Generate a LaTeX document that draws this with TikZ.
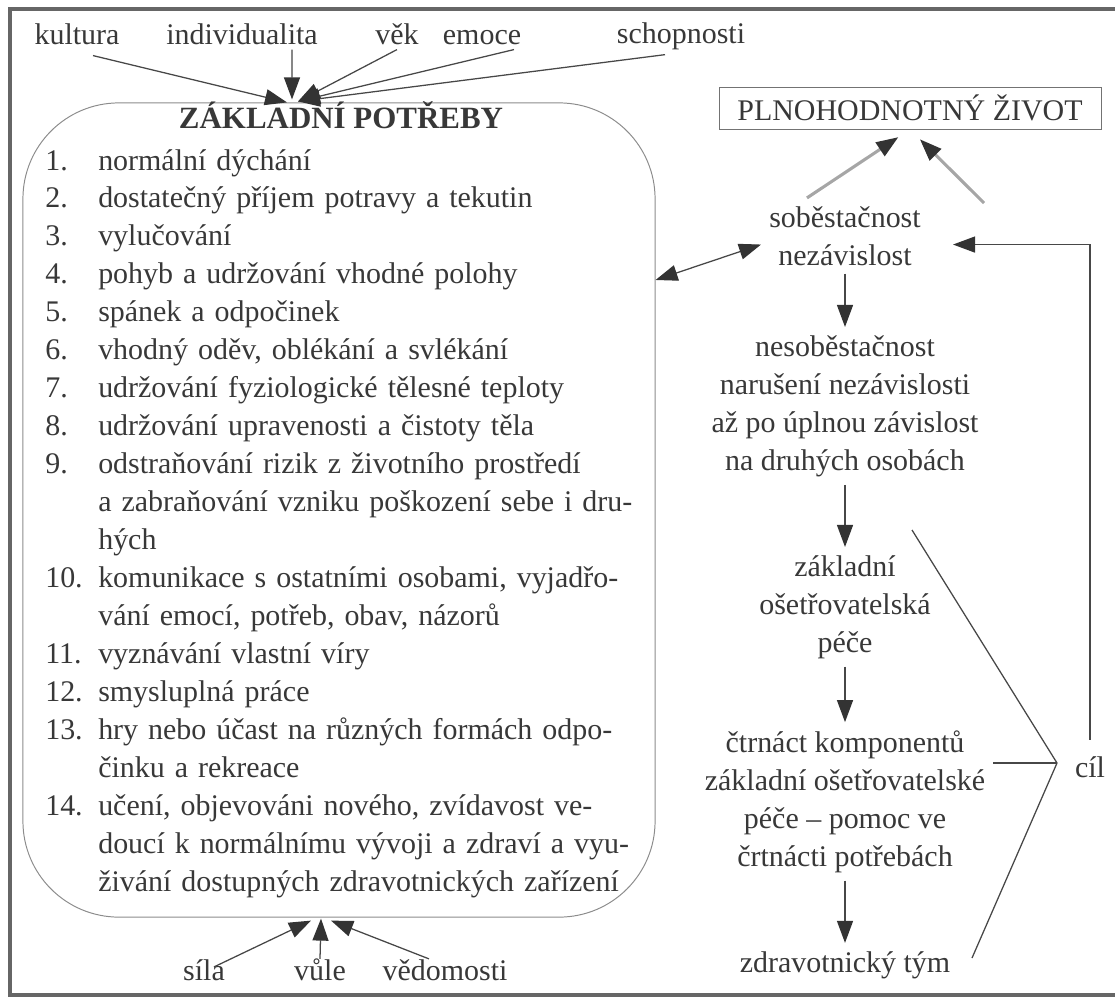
\documentclass[tikz,border=0pt]{standalone}
\usepackage{fontspec}
\setmainfont{Liberation Serif}
\usetikzlibrary{arrows.meta,calc}

\definecolor{ink}{gray}{0.22}
\definecolor{wire}{gray}{0.28}

\newcommand{\needfont}{\fontsize{21.3pt}{27pt}\selectfont}
\newcommand{\fullrow}[2]{\makebox[1.325cm][l]{#1}\makebox[13.1cm][s]{#2}}
\newcommand{\plainrow}[2]{\makebox[1.325cm][l]{#1}#2}

\begin{document}
\begin{tikzpicture}[x=0.025cm, y=-0.025cm,
  every node/.style={text=ink, font=\needfont, inner sep=0.1cm},
  factor/.style={anchor=base},
  stage/.style={align=center, anchor=base, inner sep=0.2cm},
  goal/.style={draw=black!55, line width=0.6pt, minimum width=9.55cm, minimum height=1.05cm, inner sep=0pt},
  bubble/.style={draw=black!45, line width=0.7pt, rounded corners=2.4cm, minimum width=15.8cm, minimum height=20.35cm, inner sep=0pt},
  conn/.style={draw=wire, line width=0.9pt},
  riser/.style={-{Triangle[length=0.55cm,width=0.4cm,color=black!80]}, draw=black!35, line width=2.2pt, shorten >=0.35cm},
  >={Triangle[length=0.55cm,width=0.4cm,color=black!80]}
]
\useasboundingbox (0,0) rectangle (1115,999);
\draw[line width=2.2pt, black!60] (1115,9) -- (10,9) -- (10,995) -- (1115,995);

\node[bubble] (needs) at (339,510) {};
\node[font={\fontsize{22pt}{27pt}\selectfont\bfseries}, anchor=base] (title) at (341,128) {ZÁKLADNÍ POTŘEBY};
\node[anchor=base west, align=left, text width=14.425cm, inner sep=0pt] (list) at (45,170) {%
\plainrow{1.}{normální dýchání}\\
\plainrow{2.}{dostatečný příjem potravy a tekutin}\\
\plainrow{3.}{vylučování}\\
\plainrow{4.}{pohyb a udržování vhodné polohy}\\
\plainrow{5.}{spánek a odpočinek}\\
\plainrow{6.}{vhodný oděv, oblékání a svlékání}\\
\plainrow{7.}{udržování fyziologické tělesné teploty}\\
\plainrow{8.}{udržování upravenosti a čistoty těla}\\
\fullrow{9.}{odstraňování rizik z životního prostředí}\\
\fullrow{}{a zabraňování vzniku poškození sebe i dru-}\\
\plainrow{}{hých}\\
\fullrow{10.}{komunikace s ostatními osobami, vyjadřo-}\\
\plainrow{}{vání emocí, potřeb, obav, názorů}\\
\plainrow{11.}{vyznávání vlastní víry}\\
\plainrow{12.}{smysluplná práce}\\
\fullrow{13.}{hry nebo účast na různých formách odpo-}\\
\plainrow{}{činku a rekreace}\\
\fullrow{14.}{učení, objevováni nového, zvídavost ve-}\\
\fullrow{}{doucí k normálnímu vývoji a zdraví a vyu-}\\
\plainrow{}{živání dostupných zdravotnických zařízení}};

\node[factor] (kultura) at (77,45) {kultura};
\node[factor] (individualita) at (242,45) {individualita};
\node[factor] (vek) at (397,45) {věk};
\node[factor] (emoce) at (482,45) {emoce};
\node[factor] (schopnosti) at (681,44) {schopnosti};
\node[factor] (sila) at (204,980) {síla};
\node[factor] (vule) at (320,980) {vůle};
\node[factor] (vedomosti) at (445,980) {vědomosti};

\node[goal] (plno) at (910,108) {PLNOHODNOTNÝ ŽIVOT};
\node[stage] (sobe) at (845,265) {soběstačnost\\nezávislost};
\node[stage] (nesobe) at (845,470) {nesoběstačnost\\narušení nezávislosti\\až po úplnou závislost\\na druhých osobách};
\node[stage] (zakl) at (845,652) {základní\\ošetřovatelská\\péče};
\node[stage] (ctrnact) at (845,866) {čtrnáct komponentů\\základní ošetřovatelské\\péče – pomoc ve\\črtnácti potřebách};
\node[stage] (tym) at (845,972) {zdravotnický tým};
\node[factor] (cil) at (1090,777) {cíl};

\coordinate (lift) at (984,203);
\coordinate (apex) at (1057,763);
\coordinate (armtop) at (912,530);
\coordinate (armbot) at (972,958);

\draw[conn,->] ([xshift=0.4cm,yshift=-0.15cm]kultura.south) -- ($(needs.north)+(-52,0)$);
\draw[conn,->] ([xshift=1.25cm]individualita.south) -- ($(needs.north)+(-47,-3)$);
\draw[conn,->] (vek.south) -- ($(needs.north)+(-41,-1)$);
\draw[conn,->] ([xshift=0.8cm]emoce.south) -- ($(needs.north)+(-41,-1)$);
\draw[conn,->] ([xshift=-0.4cm]schopnosti.south) -- ($(needs.north)+(-41,-1)$);
\draw[conn,->] ([xshift=0.25cm,yshift=-0.3cm]sila.north) -- ($(needs.south)+(-28,3)$);
\draw[conn,->] ([yshift=-0.12cm]vule.north) -- ($(needs.south)+(-18,1)$);
\draw[conn,->] ([xshift=-0.4cm,yshift=-0.1cm]vedomosti.north) -- ($(needs.south)+(-8,3)$);

\draw[conn,<->] (needs.36) -- ([yshift=-0.22cm]sobe.west);
\draw[riser] ([xshift=-0.95cm]sobe.north) -- (plno.south);
\draw[riser] (lift) -- (plno.south);
\draw[conn,->] (sobe) -- (nesobe);
\draw[conn,->] (nesobe) -- (zakl);
\draw[conn,->] (zakl) -- (ctrnact);
\draw[conn,->] (ctrnact) -- (tym);
\draw[conn,->, shorten >=0.6cm] ([yshift=0.3cm]cil.north) |- ([yshift=-0.22cm]sobe.east);
\draw[conn] (armtop) -- (apex) -- (armbot);
\draw[conn] (ctrnact.east |- apex) -- (apex);
\end{tikzpicture}
\end{document}
